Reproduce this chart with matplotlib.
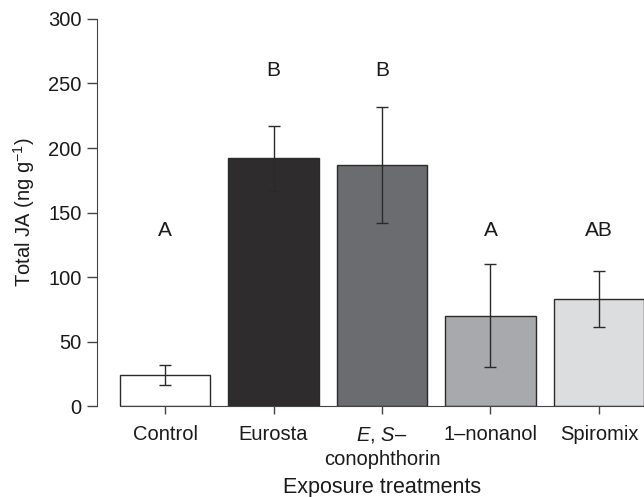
import numpy as np
import matplotlib
matplotlib.use('Agg')
import matplotlib.pyplot as plt

# data
treatments = ['Control', 'Eurosta', '$E$, $S$\u2013\nconophthorin', '1\u2013nonanol', 'Spiromix']
means = [24, 192, 187, 70, 83]
errs = [8, 25, 45, 40, 22]
letters = ['A', 'B', 'B', 'A', 'AB']
letter_y = [136, 260, 260, 136, 136]
colors = ['#ffffff', '#2e2c2d', '#6b6c70', '#a8a9ac', '#dcdddf']

plt.rcParams['font.family'] = 'Liberation Sans'
plt.rcParams['mathtext.fontset'] = 'custom'
plt.rcParams['mathtext.rm'] = 'Liberation Sans'
plt.rcParams['mathtext.it'] = 'Liberation Sans:italic'

fig = plt.figure(figsize=(6.44, 4.97), dpi=100)
ax = fig.add_axes([0.1506, 0.183, 0.8494, 0.7788])

x = np.arange(len(treatments))
ax.bar(x, means, width=0.83, color=colors, edgecolor='#2a2a2a', linewidth=1.0, zorder=2)
ax.errorbar(x, means, yerr=errs, fmt='none', ecolor='#2a2a2a', elinewidth=1.0,
            capsize=4.5, capthick=1.0, zorder=3)

for xi, lab, ly in zip(x, letters, letter_y):
    ax.text(xi, ly, lab, ha='center', va='center', fontsize=15, color='#1a1a1a')

xmin, xmax = -0.627, 4.415
ax.set_xlim(xmin, xmax)
ax.set_ylim(0, 300)
ax.set_yticks([0, 50, 100, 150, 200, 250, 300])
ax.set_xticks(x)
ax.set_xticklabels(treatments, fontsize=14.5, color='#1a1a1a', linespacing=1.3)
ax.tick_params(axis='y', labelsize=14.5, labelcolor='#1a1a1a', length=7, width=1, color='#444444', pad=4)
ax.tick_params(axis='x', length=6, width=1, color='#444444', pad=8)

ax.spines['top'].set_visible(False)
ax.spines['right'].set_visible(False)
ax.spines['left'].set_color('#444444')
ax.spines['bottom'].set_color('#444444')
ax.spines['bottom'].set_bounds(-0.415, 4.415)

ax.set_ylabel('Total JA (ng g$^{\\mathregular{-1}}$)', fontsize=14.5, color='#1a1a1a', labelpad=8)
ax.set_xlabel('Exposure treatments', fontsize=15.5, color='#1a1a1a', labelpad=6)
# x label sits under the middle bar, not the axes centre
ax.xaxis.label.set_x((2 - xmin) / (xmax - xmin))

fig.savefig('out.png', dpi=100)
